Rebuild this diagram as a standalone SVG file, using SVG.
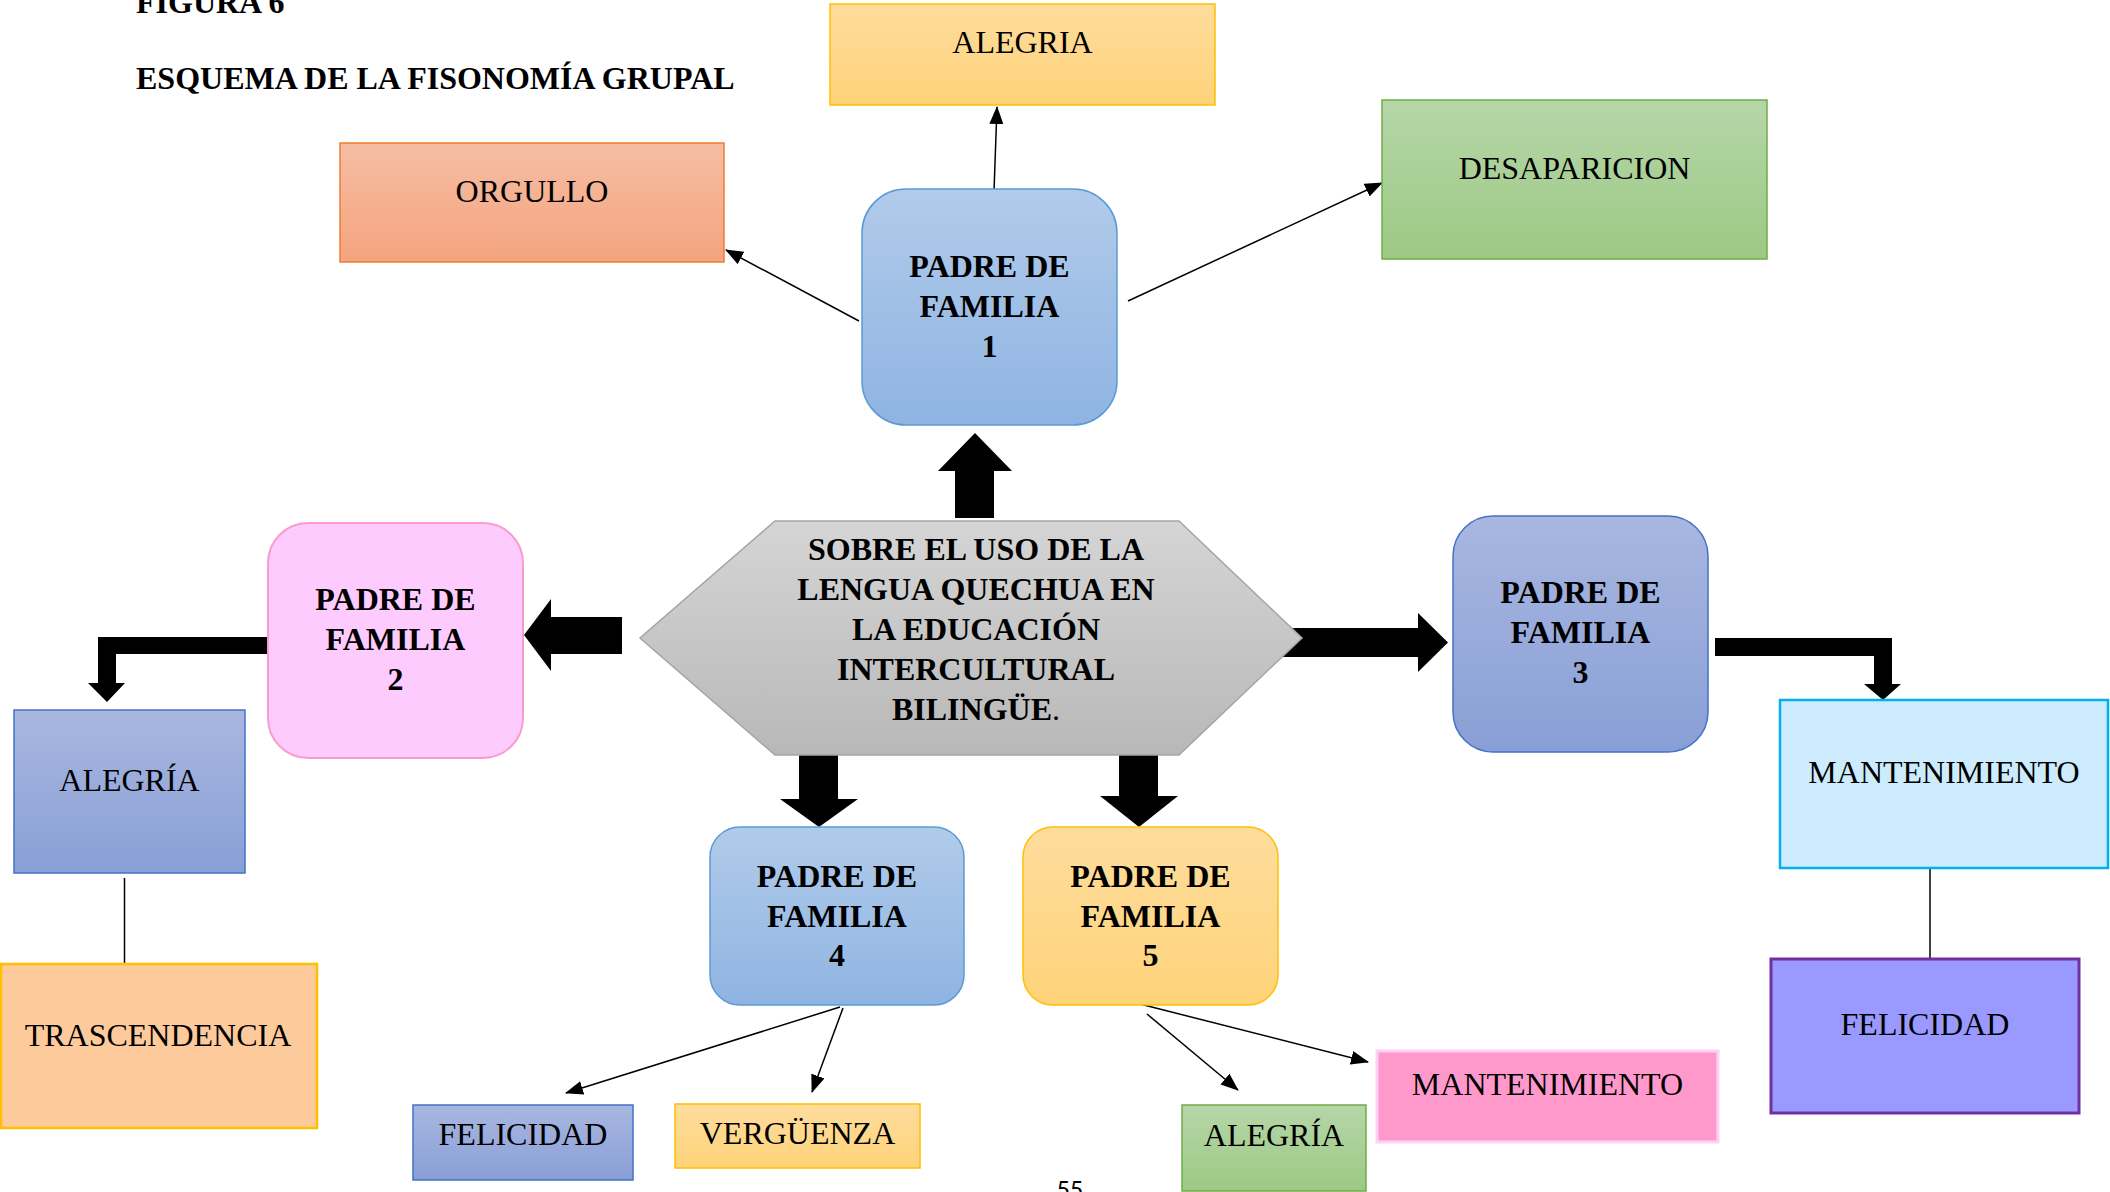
<svg xmlns="http://www.w3.org/2000/svg" width="2110" height="1192" viewBox="0 0 2110 1192">
  <defs>
    <linearGradient id="gBlue" x1="0" y1="0" x2="0" y2="1">
      <stop offset="0" stop-color="#b1cbea"/>
      <stop offset="1" stop-color="#8fb4e2"/>
    </linearGradient>
    <linearGradient id="gPeri" x1="0" y1="0" x2="0" y2="1">
      <stop offset="0" stop-color="#a9b7e0"/>
      <stop offset="1" stop-color="#889fd6"/>
    </linearGradient>
    <linearGradient id="gGold" x1="0" y1="0" x2="0" y2="1">
      <stop offset="0" stop-color="#fedc9d"/>
      <stop offset="1" stop-color="#fed379"/>
    </linearGradient>
    <linearGradient id="gGreen" x1="0" y1="0" x2="0" y2="1">
      <stop offset="0" stop-color="#b6d6a8"/>
      <stop offset="1" stop-color="#9cc984"/>
    </linearGradient>
    <linearGradient id="gOrange" x1="0" y1="0" x2="0" y2="1">
      <stop offset="0" stop-color="#f6bda3"/>
      <stop offset="1" stop-color="#f4a47f"/>
    </linearGradient>
    <linearGradient id="gGray" x1="0" y1="0" x2="0" y2="1">
      <stop offset="0" stop-color="#d5d5d5"/>
      <stop offset="1" stop-color="#b8b8b8"/>
    </linearGradient>
    <marker id="tip" markerUnits="userSpaceOnUse" markerWidth="18" markerHeight="14" viewBox="0 0 18 14" refX="17" refY="7" orient="auto">
      <path d="M0,0 L18,7 L0,14 Z" fill="#000"/>
    </marker>
  </defs>
  <style>
    text { font-family: "Liberation Serif", "Times New Roman", serif; fill: #000; }
    .t { font-size: 32px; text-anchor: middle; }
    .b { font-size: 32px; font-weight: bold; text-anchor: middle; }
    .title { font-size: 32px; font-weight: bold; }
    .thin { stroke: #000; stroke-width: 1.5; fill: none; }
    .arr { marker-end: url(#tip); }
    .fat { fill: #000; }
  </style>

  <rect width="2110" height="1192" fill="#fff"/>

  <!-- heading -->
  <text class="title" x="136" y="13">FIGURA 6</text>
  <text class="title" x="136" y="89">ESQUEMA DE LA FISONOMÍA GRUPAL</text>

  <!-- connectors -->
  <g id="connectors">
    <line class="thin arr" x1="994" y1="191" x2="997" y2="107"/>
    <line class="thin arr" x1="859" y1="321" x2="726" y2="250"/>
    <line class="thin arr" x1="1128" y1="301" x2="1382" y2="183"/>
    <line class="thin" x1="124.5" y1="878" x2="124.5" y2="964"/>
    <line class="thin" x1="1930" y1="868" x2="1930" y2="958"/>
    <line class="thin arr" x1="840" y1="1007" x2="566" y2="1093"/>
    <line class="thin arr" x1="843" y1="1008" x2="812" y2="1092"/>
    <line class="thin arr" x1="1147" y1="1014" x2="1238" y2="1090"/>
    <line class="thin arr" x1="1140" y1="1004" x2="1368" y2="1062"/>
    <!-- block arrows -->
    <polygon class="fat" points="955,518 955,471 938,471 975,433 1012,471 994,471 994,518"/>
    <polygon class="fat" points="622,617 551,617 551,599 524,635 551,671 551,654 622,654"/>
    <polygon class="fat" points="1276,628 1418,628 1418,613 1448,642.5 1418,672 1418,657 1276,657"/>
    <polygon class="fat" points="799,753 838,753 838,799 858,799 819,827 780,799 799,799"/>
    <polygon class="fat" points="1119,750 1158,750 1158,796 1178,796 1139,827 1100,796 1119,796"/>
    <polygon class="fat" points="275,637 98,637 98,683 88,683 107,702 125,683 116,683 116,654 275,654"/>
    <polygon class="fat" points="1715,638 1892,638 1892,684 1901,684 1883,700 1864,684 1874,684 1874,656 1715,656"/>
  </g>

  <!-- central hexagon -->
  <g id="centro">
    <polygon points="775,521 1179,521 1302,638 1179,755 775,755 640,638" fill="url(#gGray)" stroke="#a5a5a5" stroke-width="1.5"/>
    <text class="b" x="976" y="560">SOBRE EL USO DE LA</text>
    <text class="b" x="976" y="600">LENGUA QUECHUA EN</text>
    <text class="b" x="976" y="640">LA EDUCACIÓN</text>
    <text class="b" x="976" y="680">INTERCULTURAL</text>
    <text class="b" x="976" y="720">BILINGÜE<tspan font-weight="normal">.</tspan></text>
  </g>

  <!-- parents -->
  <g id="padre1">
    <rect x="862" y="189" width="255" height="236" rx="44" ry="44" fill="url(#gBlue)" stroke="#5b9bd5" stroke-width="1.5"/>
    <text class="b" x="989.5" y="277">PADRE DE</text>
    <text class="b" x="989.5" y="317">FAMILIA</text>
    <text class="b" x="989.5" y="357">1</text>
  </g>
  <g id="padre2">
    <rect x="268" y="523" width="255" height="235" rx="40" ry="40" fill="#fecbfe" stroke="#f99ccd" stroke-width="2"/>
    <text class="b" x="395.5" y="610">PADRE DE</text>
    <text class="b" x="395.5" y="650">FAMILIA</text>
    <text class="b" x="395.5" y="690">2</text>
  </g>
  <g id="padre3">
    <rect x="1453" y="516" width="255" height="236" rx="40" ry="40" fill="url(#gPeri)" stroke="#4472c4" stroke-width="1.5"/>
    <text class="b" x="1580.5" y="603">PADRE DE</text>
    <text class="b" x="1580.5" y="643">FAMILIA</text>
    <text class="b" x="1580.5" y="683">3</text>
  </g>
  <g id="padre4">
    <rect x="710" y="827" width="254" height="178" rx="30" ry="30" fill="url(#gBlue)" stroke="#5b9bd5" stroke-width="1.5"/>
    <text class="b" x="837" y="887">PADRE DE</text>
    <text class="b" x="837" y="927">FAMILIA</text>
    <text class="b" x="837" y="966">4</text>
  </g>
  <g id="padre5">
    <rect x="1023" y="827" width="255" height="178" rx="30" ry="30" fill="url(#gGold)" stroke="#ffc000" stroke-width="1.5"/>
    <text class="b" x="1150.5" y="887">PADRE DE</text>
    <text class="b" x="1150.5" y="927">FAMILIA</text>
    <text class="b" x="1150.5" y="966">5</text>
  </g>

  <!-- feelings -->
  <g id="alegria-1">
    <rect x="830" y="4" width="385" height="101" fill="url(#gGold)" stroke="#ffc000" stroke-width="1.5"/>
    <text class="t" x="1022.5" y="53">ALEGRIA</text>
  </g>
  <g id="orgullo">
    <rect x="340" y="143" width="384" height="119" fill="url(#gOrange)" stroke="#ed7d31" stroke-width="1.5"/>
    <text class="t" x="532" y="202">ORGULLO</text>
  </g>
  <g id="desaparicion">
    <rect x="1382" y="100" width="385" height="159" fill="url(#gGreen)" stroke="#70ad47" stroke-width="1.5"/>
    <text class="t" x="1574.5" y="179">DESAPARICION</text>
  </g>
  <g id="alegria-2">
    <rect x="14" y="710" width="231" height="163" fill="url(#gPeri)" stroke="#4472c4" stroke-width="1.5"/>
    <text class="t" x="129.5" y="791">ALEGRÍA</text>
  </g>
  <g id="trascendencia">
    <rect x="1" y="964" width="316" height="164" fill="#fdca9c" stroke="#ffc000" stroke-width="2.5"/>
    <text class="t" x="158" y="1046">TRASCENDENCIA</text>
  </g>
  <g id="mantenimiento-3">
    <rect x="1780" y="700" width="328" height="168" fill="#ccecfd" stroke="#00b0f0" stroke-width="2.5"/>
    <text class="t" x="1944" y="783">MANTENIMIENTO</text>
  </g>
  <g id="felicidad-3">
    <rect x="1771" y="959" width="308" height="154" fill="#9999ff" stroke="#7030a0" stroke-width="3"/>
    <text class="t" x="1925" y="1035">FELICIDAD</text>
  </g>
  <g id="felicidad-4">
    <rect x="413" y="1105" width="220" height="75" fill="url(#gPeri)" stroke="#4472c4" stroke-width="1.5"/>
    <text class="t" x="523" y="1145">FELICIDAD</text>
  </g>
  <g id="verguenza">
    <rect x="675" y="1104" width="245" height="64" fill="url(#gGold)" stroke="#ffc000" stroke-width="1.5"/>
    <text class="t" x="797.5" y="1144">VERGÜENZA</text>
  </g>
  <g id="alegria-5">
    <rect x="1182" y="1105" width="184" height="86" fill="url(#gGreen)" stroke="#70ad47" stroke-width="1.5"/>
    <text class="t" x="1274" y="1146">ALEGRÍA</text>
  </g>
  <g id="mantenimiento-5">
    <rect x="1377" y="1051" width="341" height="91" fill="#ff99cc" stroke="#fdd0f8" stroke-width="3"/>
    <text class="t" x="1547.5" y="1095">MANTENIMIENTO</text>
  </g>

  <!-- page number -->
  <text x="1070" y="1198" font-size="26" text-anchor="middle" style="font-family: Carlito, 'Liberation Sans', sans-serif;">55</text>
</svg>
